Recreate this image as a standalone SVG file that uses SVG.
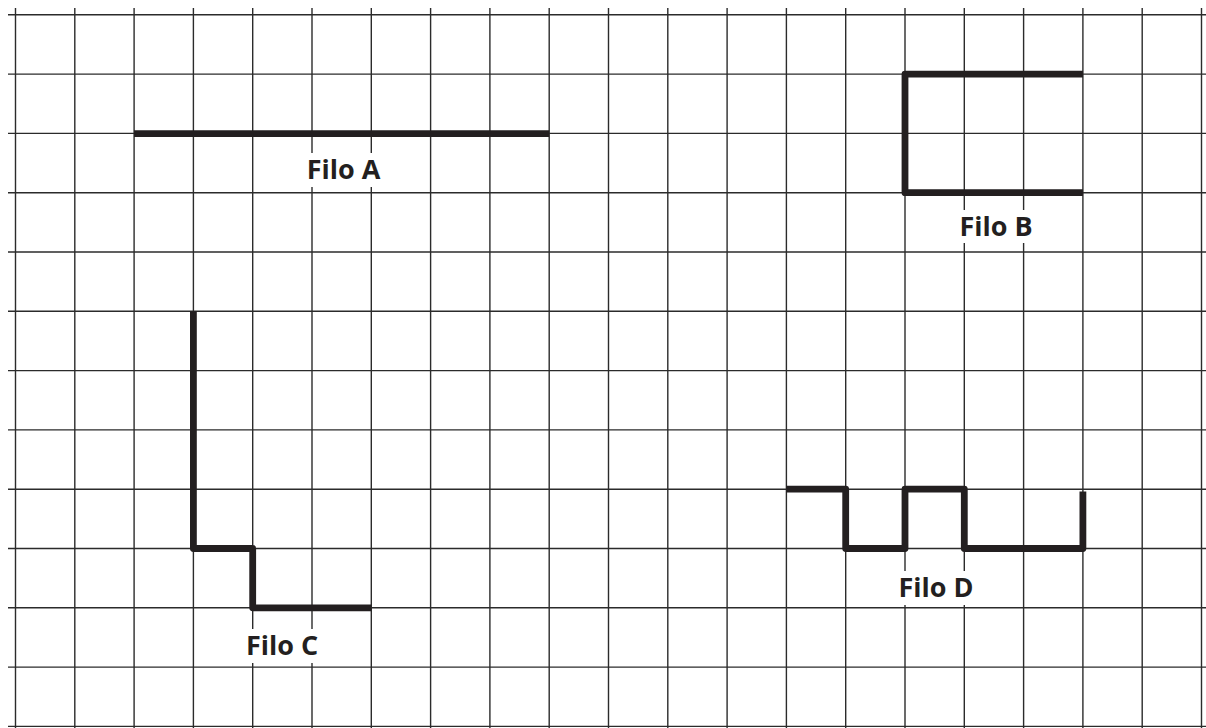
<svg xmlns="http://www.w3.org/2000/svg" width="1206" height="728" viewBox="0 0 1206 728">
<style>
.grid line{stroke:#2b2b2b;stroke-width:1.4}
.wire{fill:none;stroke:#231f20;stroke-width:6.8;stroke-linejoin:round;stroke-linecap:butt}
.lbl{font-family:"Open Sans","Liberation Sans",sans-serif;font-weight:bold;font-size:27px;fill:#231f20;text-anchor:middle}
.bg{fill:#ffffff}
</style>
<rect width="1206" height="728" fill="#ffffff"/>
<g class="grid" id="grid">
<line x1="15.5" y1="8" x2="15.5" y2="728"/>
<line x1="74.8" y1="8" x2="74.8" y2="728"/>
<line x1="134.1" y1="8" x2="134.1" y2="728"/>
<line x1="193.4" y1="8" x2="193.4" y2="728"/>
<line x1="252.7" y1="8" x2="252.7" y2="728"/>
<line x1="312" y1="8" x2="312" y2="728"/>
<line x1="371.3" y1="8" x2="371.3" y2="728"/>
<line x1="430.6" y1="8" x2="430.6" y2="728"/>
<line x1="489.9" y1="8" x2="489.9" y2="728"/>
<line x1="549.2" y1="8" x2="549.2" y2="728"/>
<line x1="608.5" y1="8" x2="608.5" y2="728"/>
<line x1="667.8" y1="8" x2="667.8" y2="728"/>
<line x1="727.1" y1="8" x2="727.1" y2="728"/>
<line x1="786.4" y1="8" x2="786.4" y2="728"/>
<line x1="845.7" y1="8" x2="845.7" y2="728"/>
<line x1="905" y1="8" x2="905" y2="728"/>
<line x1="964.3" y1="8" x2="964.3" y2="728"/>
<line x1="1023.6" y1="8" x2="1023.6" y2="728"/>
<line x1="1082.9" y1="8" x2="1082.9" y2="728"/>
<line x1="1142.2" y1="8" x2="1142.2" y2="728"/>
<line x1="1201.5" y1="8" x2="1201.5" y2="728"/>
<line x1="8" y1="14.8" x2="1206" y2="14.8"/>
<line x1="8" y1="74.1" x2="1206" y2="74.1"/>
<line x1="8" y1="133.4" x2="1206" y2="133.4"/>
<line x1="8" y1="192.7" x2="1206" y2="192.7"/>
<line x1="8" y1="252" x2="1206" y2="252"/>
<line x1="8" y1="311.3" x2="1206" y2="311.3"/>
<line x1="8" y1="370.6" x2="1206" y2="370.6"/>
<line x1="8" y1="429.9" x2="1206" y2="429.9"/>
<line x1="8" y1="489.2" x2="1206" y2="489.2"/>
<line x1="8" y1="548.5" x2="1206" y2="548.5"/>
<line x1="8" y1="607.8" x2="1206" y2="607.8"/>
<line x1="8" y1="667.1" x2="1206" y2="667.1"/>
<line x1="8" y1="726.4" x2="1206" y2="726.4"/>
</g>
<g id="filoA">
<path class="wire" d="M134.1,133.7 H549.2"/>
<rect class="bg" x="303" y="153" width="82" height="34"/>
<text class="lbl" x="343.5" y="179">Filo A</text>
</g>
<g id="filoB">
<path class="wire" d="M1082.9,74.1 H905 V192.7 H1082.9"/>
<rect class="bg" x="955" y="210" width="82" height="33"/>
<text class="lbl" x="996" y="236">Filo B</text>
</g>
<g id="filoC">
<path class="wire" d="M193.4,311.3 V548.5 H252.7 V607.8 H371.3"/>
<rect class="bg" x="241" y="629" width="82" height="34"/>
<text class="lbl" x="282" y="655">Filo C</text>
</g>
<g id="filoD">
<path class="wire" d="M786.4,489.2 H845.7 V548.5 H905 V489.2 H964.3 V548.5 H1082.9 V491.5"/>
<rect class="bg" x="895" y="571" width="82" height="34"/>
<text class="lbl" x="936" y="597">Filo D</text>
</g>
</svg>
